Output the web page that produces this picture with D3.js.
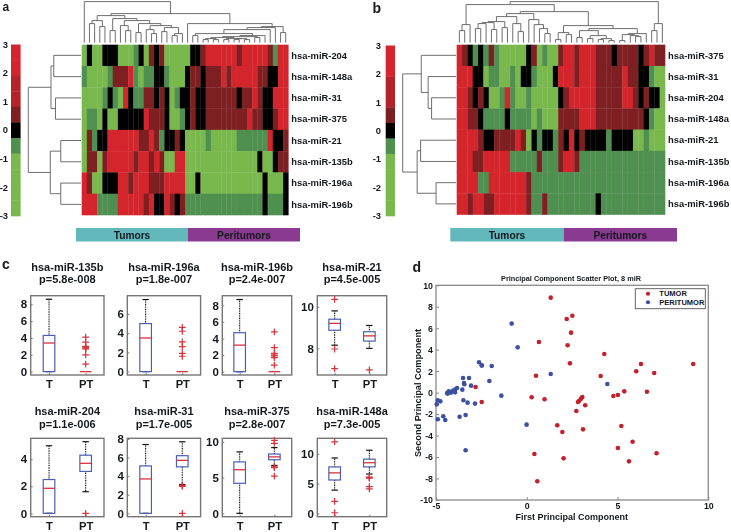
<!DOCTYPE html>
<html><head><meta charset="utf-8">
<style>html,body{margin:0;padding:0;background:#fff}svg{display:block;filter:blur(0.3px)}text{font-family:"Liberation Sans",Arial,sans-serif;font-weight:bold;fill:#15181d}</style>
<script src="https://cdnjs.cloudflare.com/ajax/libs/d3/7.8.5/d3.min.js"></script>
</head><body><svg id="c" width="731" height="532"></svg>
<script>
// ---------- Heat maps (L light green, g dark green, k black, d dark red, m mid red, r red)
const rowsA = ["hsa-miR-204","hsa-miR-148a","hsa-miR-31","hsa-miR-375","hsa-miR-21","hsa-miR-135b","hsa-miR-196a","hsa-miR-196b"];
const cellsA = [
"LkLLkkkLLLgkLdkdLLLLLkkdrrrrrrdrrrrrdgrr",
"gLLLLgdddrgLggkkgLLLkddkdddrdrrrrrddkkrr",
"LLLLgkgLrkggddkdkLgkkdkkddddddkddrdkkrrr",
"LggLkLLkkkkkrdddkLLgkdkkddddddddrddkkdrr",
"LdgkkrrrrrrddrdgkkdkLLLLgLLLLLggggggrkkd",
"LddLdrrrrrdrrdrdLLrrLLLLLLLLLLLLLLkLLkdd",
"rdLLkkkrrdrrrdddrrrrLLkLLLLLLLLLLLLkLLLk",
"rrrggggrrrrrdrkkrdkdgggggggggggggggkgggk"];
const rowsB = ["hsa-miR-375","hsa-miR-31","hsa-miR-204","hsa-miR-148a","hsa-miR-21","hsa-miR-135b","hsa-miR-196a","hsa-miR-196b"];
const cellsB = [
"rdkgkgdgLLLLLkdLgLLdrrdrrrdddkddddkdrdd",
"rrrkkLggLLgLkkgLLLkrrrdrrrdddddrddkkgLL",
"rrdkdkLLgrgLLgLLLLLkdrrrrrdddddrrdkdkkL",
"rrddkggggkggggLgLLLddddrrrdddddddddkgLL",
"rrrrdkkddddrdLkgkkgdkrkdkkkkgkkkkLLgLLL",
"rrrddrrrrrgggggdgggdrrdgggggggggggggggg",
"rrrrggrrrrrrrdggggggggggggggggggggggggg",
"rrdrrddrrrrrrdggdgggggggggkgggggggggggg"];
const levelColors = {L:"#79b84c",g:"#4f8f50",k:"#000000",d:"#7e1f22",m:"#b4222a",r:"#d3252b"};
const colorbarLevels = ["r","r","m","m","d","k","g","L","L","L","L"];
const colorbarTicks = [-3,-2,-1,0,1,2,3];

// ---------- Dendrograms as [height, left, right]; leaves are indices
const rowTreeA = [151,[86,[78,0,1],[73,2,3]],[88,[58,4,5],[58,6,7]]];
const rowTreeB = [155,[101,0,[81,1,[71,2,3]]],[113,[103,4,5],[58,6,7]]];
const colTreeA = [41,0,[29,
  [27,[22,[19,1,2],[16,3,4]],[24,[12,5,6],[22,[17,7,[12,8,9]],[19,[10,10,11],[17,[13,12,[9,13,14]],[15,[11,15,16],[9,[7,17,18],19]]]]]]],
  [19,20,[16,[15,[13,[9,[7,21,22],[7,[6,[5,[4,[3,23,24],[3,25,26]],[4,[3,27,28],[4,[3,29,30],[3,31,32]]]],[5,33,34]],35]],36],37],[10,38,39]]]]];
const colTreeB = [41,[38,[18,[12,0,1],2],
  [31,[29,[26,[21,[20,[19,[14,3,4],5],[13,6,7]],[15,8,9]],[19,10,[11,11,12]]],[23,13,[18,14,[14,15,[9,16,17]]]]],
   [17,[10,[3,18,19],[8,20,21]],[14,[12,[5,22,23],[7,[4,24,25],[4,[3,26,27],[2,28,29]]]],[9,[8,[2,30,31],[7,32,[6,33,34]]],35]]]]],
  [19,[12,36,37],38]];

// ---------- Group bars
const groupNames = ["Tumors","Peritumors"];

// ---------- Boxplots
const boxNames = ["hsa-miR-135b","hsa-miR-196a","hsa-miR-196b","hsa-miR-21","hsa-miR-204","hsa-miR-31","hsa-miR-375","hsa-miR-148a"];
const boxPvals = ["p=5.8e-008","p=1.8e-007","p=2.4e-007","p=4.5e-005","p=1.1e-006","p=1.7e-005","p=2.8e-007","p=7.3e-005"];
const boxLimits = [[-0.4,9.02],[-0.35,7.9],[-0.4,9.16],[6.72,10.53],[-0.25,5.55],[-0.36,8.07],[-0.47,10.5],[-0.56,12.6]];
const boxTicks = [[0,2,4,6,8],[0,2,4,6],[0,2,4,6,8],[8,10],[0,2,4],[0,2,4,6,8],[0,5,10],[0,5,10]];
const groupLabels = ["T","PT"];
// lo, q1, median, q3, hi
const tumorStats = [[0,0,3.4,4.3,8.6],[0,0,3.5,5,7.5],[0,0,3.2,4.7,8.7],[8.15,8.87,9.2,9.4,9.8],[0,0,1.85,2.5,5],[0,0,3.7,5.1,7.4],[0,4.2,6.1,7.2,8.6],[3.9,5.6,6.8,7.8,9.3]];
const peritumorStats = [[0,0,0,0,0],[0,0,0,0,0],[0,0,0,0,0],[8,8.35,8.6,8.8,9.1],[1.6,3.1,3.7,4.3,5.3],[3.1,5,5.7,6.2,7.7],[6.7,7.5,7.9,8.3,9.2],[6.6,7.8,8.5,9.1,10.6]];
const tumorOutliers = [[],[],[],[10.35,7.97,7.03],[],[],[],[12,2,0.1]];
const peritumorOutliers = [[0.9,2,2.7,2.8,2.9,3,3.5,4.1],[1.6,1.9,2.6,3.1,4.2,4.6],[0.8,1.7,1.9,2,2.2,2.9,4.8],[6.97],[0],[0,2.9,3],[5.2,6.4,6.5,9.8,10.2],[4.1,4.5,5.9,6,6.1]];

// ---------- PCA scatter
const tumorX = [1.32,2.2,2.51,2.44,0.67,2.25,4.27,2.38,9.17,6.29,6.03,7.02,4.07,0.51,-2.48,-2.82,-2.48,6.62,5.37,5.02,4.77,0.27,0.98,3.06,2.99,2.89,2.82,3.22,2.73,1.68,1.96,3.1,5.21,5.83,5.02,0.42,7.15,2.03,5.63,0.58];
const tumorY = [8.85,6.86,7.17,5.59,4.72,4.41,3.6,2.73,2.67,2.67,1.99,1.83,1.55,1.58,2.55,0.53,-0.87,0.09,0.12,-0.22,-0.31,-0.43,-0.62,-0.4,-0.56,-0.75,-0.87,-1.18,-1.71,-3.04,-3.66,-3.42,-3.11,-4.57,-5.16,-5.71,-5.65,-6.12,-6.4,-8.26];
const periX = [-0.83,-0.5,-2.63,-2.48,-1.93,1.32,4.44,-2.06,-3.51,-3.18,-3.46,-3.44,-3.07,-3.55,-1.4,-3.84,-3.95,-4.05,-3.95,-4.14,-4.3,-4.39,-4.19,-4.36,-3.49,-3.26,-2.85,-4.9,-4.76,-4.96,-3.37,-4.6,-3.7,-4.49,-4.9,-0.01,-3.37];
const periY = [6.43,4.22,2.83,2.52,2.48,1.74,0.81,1.09,1.37,1.37,0.9,0.78,0.65,0.28,-0.28,0.43,0.28,0.19,0.03,0.09,0.12,-0.03,0,-0.09,-0.71,-0.93,-1.02,-0.71,-0.81,-1.09,-2.08,-2.2,-2.24,-2.55,-2.48,-2.98,-5.37];
const scatterTicksX = [-5,0,5,10];
const scatterTicksY = [-10,-8,-6,-4,-2,0,2,4,6,8,10];
const legendNames = ["TUMOR","PERITUMOR"];

const svg = d3.select("#c");

function panelLetter(t,x,y,s){svg.append("text").attr("x",x).attr("y",y).attr("font-size",s).text(t);}

function heatmap(o){
  const g = svg.append("g");
  const nCols = o.cells[0].length;
  const x = d3.scaleBand().domain(d3.range(nCols)).range(o.x);
  const y = d3.scaleBand().domain(o.rows).range(o.y);
  o.cells.forEach((row,ri)=>{
    g.selectAll(null).data(Array.from(row)).enter().append("rect")
      .attr("x",(d,i)=>x(i)).attr("y",y(o.rows[ri]))
      .attr("width",x.bandwidth()+0.3).attr("height",y.bandwidth()+0.3)
      .attr("fill",d=>levelColors[d]);
  });
  g.selectAll("text").data(o.rows).enter().append("text")
    .attr("x",o.x[1]+3).attr("y",d=>y(d)+y.bandwidth()/2+3.2)
    .attr("font-size",9.4).text(d=>d);
  // colour bar
  const cb = d3.scaleBand().domain(d3.range(colorbarLevels.length)).range(o.barY);
  g.selectAll(null).data(colorbarLevels).enter().append("rect")
    .attr("x",o.barX[0]).attr("width",o.barX[1]-o.barX[0])
    .attr("y",(d,i)=>cb(i)).attr("height",cb.bandwidth()+0.3).attr("fill",d=>levelColors[d]);
  const cs = d3.scaleLinear().domain([-3,3]).range([o.barY[1],o.barY[0]]);
  g.selectAll(null).data(colorbarTicks).enter().append("text")
    .attr("x",o.barLabel).attr("y",d=>cs(d)+3.2).attr("text-anchor","end")
    .attr("font-size",9.4).text(d=>d);
  // dendrograms
  const line = svg.append("g").attr("fill","none").attr("stroke","#5e5e5e").attr("stroke-width",0.9);
  const hr = d3.scaleLinear().domain(o.rowH).range(o.rowDX);
  function drawRow(n){
    if(typeof n==="number") return {p:y(o.rows[n])+y.bandwidth()/2,h:0};
    const a=drawRow(n[1]),b=drawRow(n[2]);
    line.append("path").attr("d",d3.line()([[hr(a.h),a.p],[hr(n[0]),a.p],[hr(n[0]),b.p],[hr(b.h),b.p]]));
    return {p:(a.p+b.p)/2,h:n[0]};
  }
  drawRow(o.rowTree);
  const hc = d3.scaleLinear().domain([0,41]).range([42.6,1.6]);
  function drawCol(n){
    if(typeof n==="number") return {p:x(n)+x.bandwidth()/2,h:0};
    const a=drawCol(n[1]),b=drawCol(n[2]);
    line.append("path").attr("d",d3.line()([[a.p,hc(a.h)],[a.p,hc(n[0])],[b.p,hc(n[0])],[b.p,hc(b.h)]]));
    return {p:(a.p+b.p)/2,h:n[0]};
  }
  drawCol(o.colTree);
  // group bar
  const gb = d3.scaleBand().domain(groupNames).range(o.groupX);
  const gcol = {Tumors:"#63b8bc",Peritumors:"#8a3a90"};
  g.selectAll(null).data(groupNames).enter().append("rect")
    .attr("x",d=>gb(d)).attr("y",228).attr("width",gb.bandwidth()).attr("height",13.5).attr("fill",d=>gcol[d]);
  g.selectAll(null).data(groupNames).enter().append("text")
    .attr("x",d=>gb(d)+gb.bandwidth()/2).attr("y",239).attr("text-anchor","middle")
    .attr("font-size",10.2).attr("fill","#16222f").text(d=>d);
}

heatmap({rows:rowsA,cells:cellsA,x:[81.7,288.3],y:[44.7,215],barX:[11,20.6],barY:[44.5,216],barLabel:8,
  rowTree:rowTreeA,rowH:[0,151],rowDX:[81,28.3],colTree:colTreeA,groupX:[76,300]});
heatmap({rows:rowsB,cells:cellsB,x:[456.7,665],y:[44.7,214.5],barX:[385.7,395],barY:[45.5,216],barLabel:381,
  rowTree:rowTreeB,rowH:[0,155],rowDX:[456,402.7],colTree:colTreeB,groupX:[450.3,677]});

panelLetter("a",2.5,10.9,12);panelLetter("b",372.5,12.7,14);panelLetter("c",2,269,14);panelLetter("d",412.5,272,14);

// ---------- Boxplots
const boxLeft = [30.7,127.3,222.3,317.3];
const boxWidth = [73.3,73.3,69.4,69.4];
const boxTop = [295.7,438.3], boxBottom = [375,516.7];
boxNames.forEach((name,i)=>{
  const col=i%4,row=i<4?0:1;
  const x=d3.scaleLinear().domain([0.5,2.5]).range([boxLeft[col],boxLeft[col]+boxWidth[col]]);
  const y=d3.scaleLinear().domain(boxLimits[i]).range([boxBottom[row],boxTop[row]]);
  const g=svg.append("g");
  const cx=boxLeft[col]+boxWidth[col]/2;
  g.append("text").attr("x",cx).attr("y",row?415:270.7).attr("text-anchor","middle").attr("font-size",11).text(name);
  g.append("text").attr("x",cx).attr("y",row?427.7:283.3).attr("text-anchor","middle").attr("font-size",11).text(boxPvals[i]);
  g.append("rect").attr("x",x.range()[0]).attr("y",y.range()[1]).attr("width",boxWidth[col]).attr("height",y.range()[0]-y.range()[1])
    .attr("fill","none").attr("stroke","#767676").attr("stroke-width",1.4);
  const ax=g.append("g").attr("transform",`translate(${x.range()[0]},0)`)
    .call(d3.axisLeft(y).tickValues(boxTicks[i]).tickSize(-2).tickPadding(3.5).tickFormat(d=>String(d)));
  ax.select(".domain").remove();
  ax.selectAll("line").attr("stroke","#767676");
  ax.selectAll("text").attr("font-size",11.5).attr("font-family",'"Liberation Sans"').attr("font-weight","bold");
  const bx=g.append("g").attr("transform",`translate(0,${y.range()[0]})`)
    .call(d3.axisBottom(x).tickValues([1,2]).tickSize(-2).tickPadding(5).tickFormat((d,k)=>groupLabels[k]));
  bx.select(".domain").remove();
  bx.selectAll("line").attr("stroke","#767676");
  bx.selectAll("text").attr("font-size",11.2).attr("font-family",'"Liberation Sans"').attr("font-weight","bold");
  [[tumorStats[i],tumorOutliers[i]],[peritumorStats[i],peritumorOutliers[i]]].forEach(([s,out],k)=>{
    const p=x(k+1),hw=5.8,cap=3.2;
    const b=g.append("g");
    if(s[4]>s[3]) b.append("line").attr("x1",p).attr("x2",p).attr("y1",y(s[3])).attr("y2",y(s[4])).attr("stroke","#111").attr("stroke-width",1.1).attr("stroke-dasharray","1,0.7");
    if(s[1]>s[0]) b.append("line").attr("x1",p).attr("x2",p).attr("y1",y(s[1])).attr("y2",y(s[0])).attr("stroke","#111").attr("stroke-width",1.1).attr("stroke-dasharray","1,0.7");
    if(s[4]>s[0]){
      [s[0],s[4]].forEach(v=>b.append("line").attr("x1",p-cap).attr("x2",p+cap).attr("y1",y(v)).attr("y2",y(v)).attr("stroke","#111").attr("stroke-width",1.2));
      b.append("rect").attr("x",p-hw).attr("width",hw*2).attr("y",y(s[3])).attr("height",y(s[1])-y(s[3]))
        .attr("fill","none").attr("stroke","#4a5fb4").attr("stroke-width",1.2);
    }
    b.append("line").attr("x1",p-hw).attr("x2",p+hw).attr("y1",y(s[2])).attr("y2",y(s[2])).attr("stroke","#d8323a").attr("stroke-width",1.3);
    b.selectAll("path").data(out).enter().append("path")
      .attr("d",d=>`M${p-3.4},${y(d)}H${p+3.4}M${p},${y(d)-3.4}V${y(d)+3.4}`)
      .attr("stroke","#d8323a").attr("stroke-width",1.2).attr("fill","none");
  });
});

// ---------- Scatter
const sx=d3.scaleLinear().domain([-5,10]).range([436,708.3]);
const sy=d3.scaleLinear().domain([-10,10]).range([500,285.3]);
const sg=svg.append("g");
sg.append("rect").attr("x",436).attr("y",285.3).attr("width",272.3).attr("height",214.7).attr("fill","none").attr("stroke","#8a8a8a").attr("stroke-width",1.3);
const a1=sg.append("g").attr("transform","translate(0,500)").call(d3.axisBottom(sx).tickValues(scatterTicksX).tickSize(-3).tickPadding(2.5).tickFormat(d=>String(d)));
const a2=sg.append("g").attr("transform","translate(436,0)").call(d3.axisLeft(sy).tickValues(scatterTicksY).tickSize(-3).tickPadding(3).tickFormat(d=>String(d)));
[a1,a2].forEach(a=>{a.select(".domain").remove();a.selectAll("line").attr("stroke","#8a8a8a");
  a.selectAll("text").attr("font-size",8.8).attr("font-family",'"Liberation Sans"').attr("font-weight","bold");});
sg.selectAll(null).data(tumorX).enter().append("circle").attr("cx",d=>sx(d)).attr("cy",(d,i)=>sy(tumorY[i])).attr("r",2.3).attr("fill","#c4202c");
sg.selectAll(null).data(periX).enter().append("circle").attr("cx",d=>sx(d)).attr("cy",(d,i)=>sy(periY[i])).attr("r",2.3).attr("fill","#3c50a2");
sg.append("text").attr("x",571).attr("y",280.7).attr("text-anchor","middle").attr("font-size",7.3).text("Principal Component Scatter Plot, 8 miR");
sg.append("text").attr("x",571.7).attr("y",520).attr("text-anchor","middle").attr("font-size",9).text("First Principal Component");
sg.append("text").attr("transform","translate(420.5,393) rotate(-90)").attr("text-anchor","middle").attr("font-size",9.2).text("Second Principal Component");
sg.append("rect").attr("x",635.3).attr("y",288.7).attr("width",70).attr("height",20).attr("fill","#fff").attr("stroke","#555").attr("stroke-width",0.9);
const ly=d3.scaleBand().domain(legendNames).range([289.5,306.5]);
const lcol=["#c4202c","#3c50a2"];
sg.selectAll(null).data(legendNames).enter().append("circle").attr("cx",648).attr("cy",d=>ly(d)+ly.bandwidth()/2).attr("r",2.1).attr("fill",(d,i)=>lcol[i]);
sg.selectAll(null).data(legendNames).enter().append("text").attr("x",659.3).attr("y",d=>ly(d)+ly.bandwidth()/2+2.7).attr("font-size",7.5).text(d=>d);
</script></body></html>
